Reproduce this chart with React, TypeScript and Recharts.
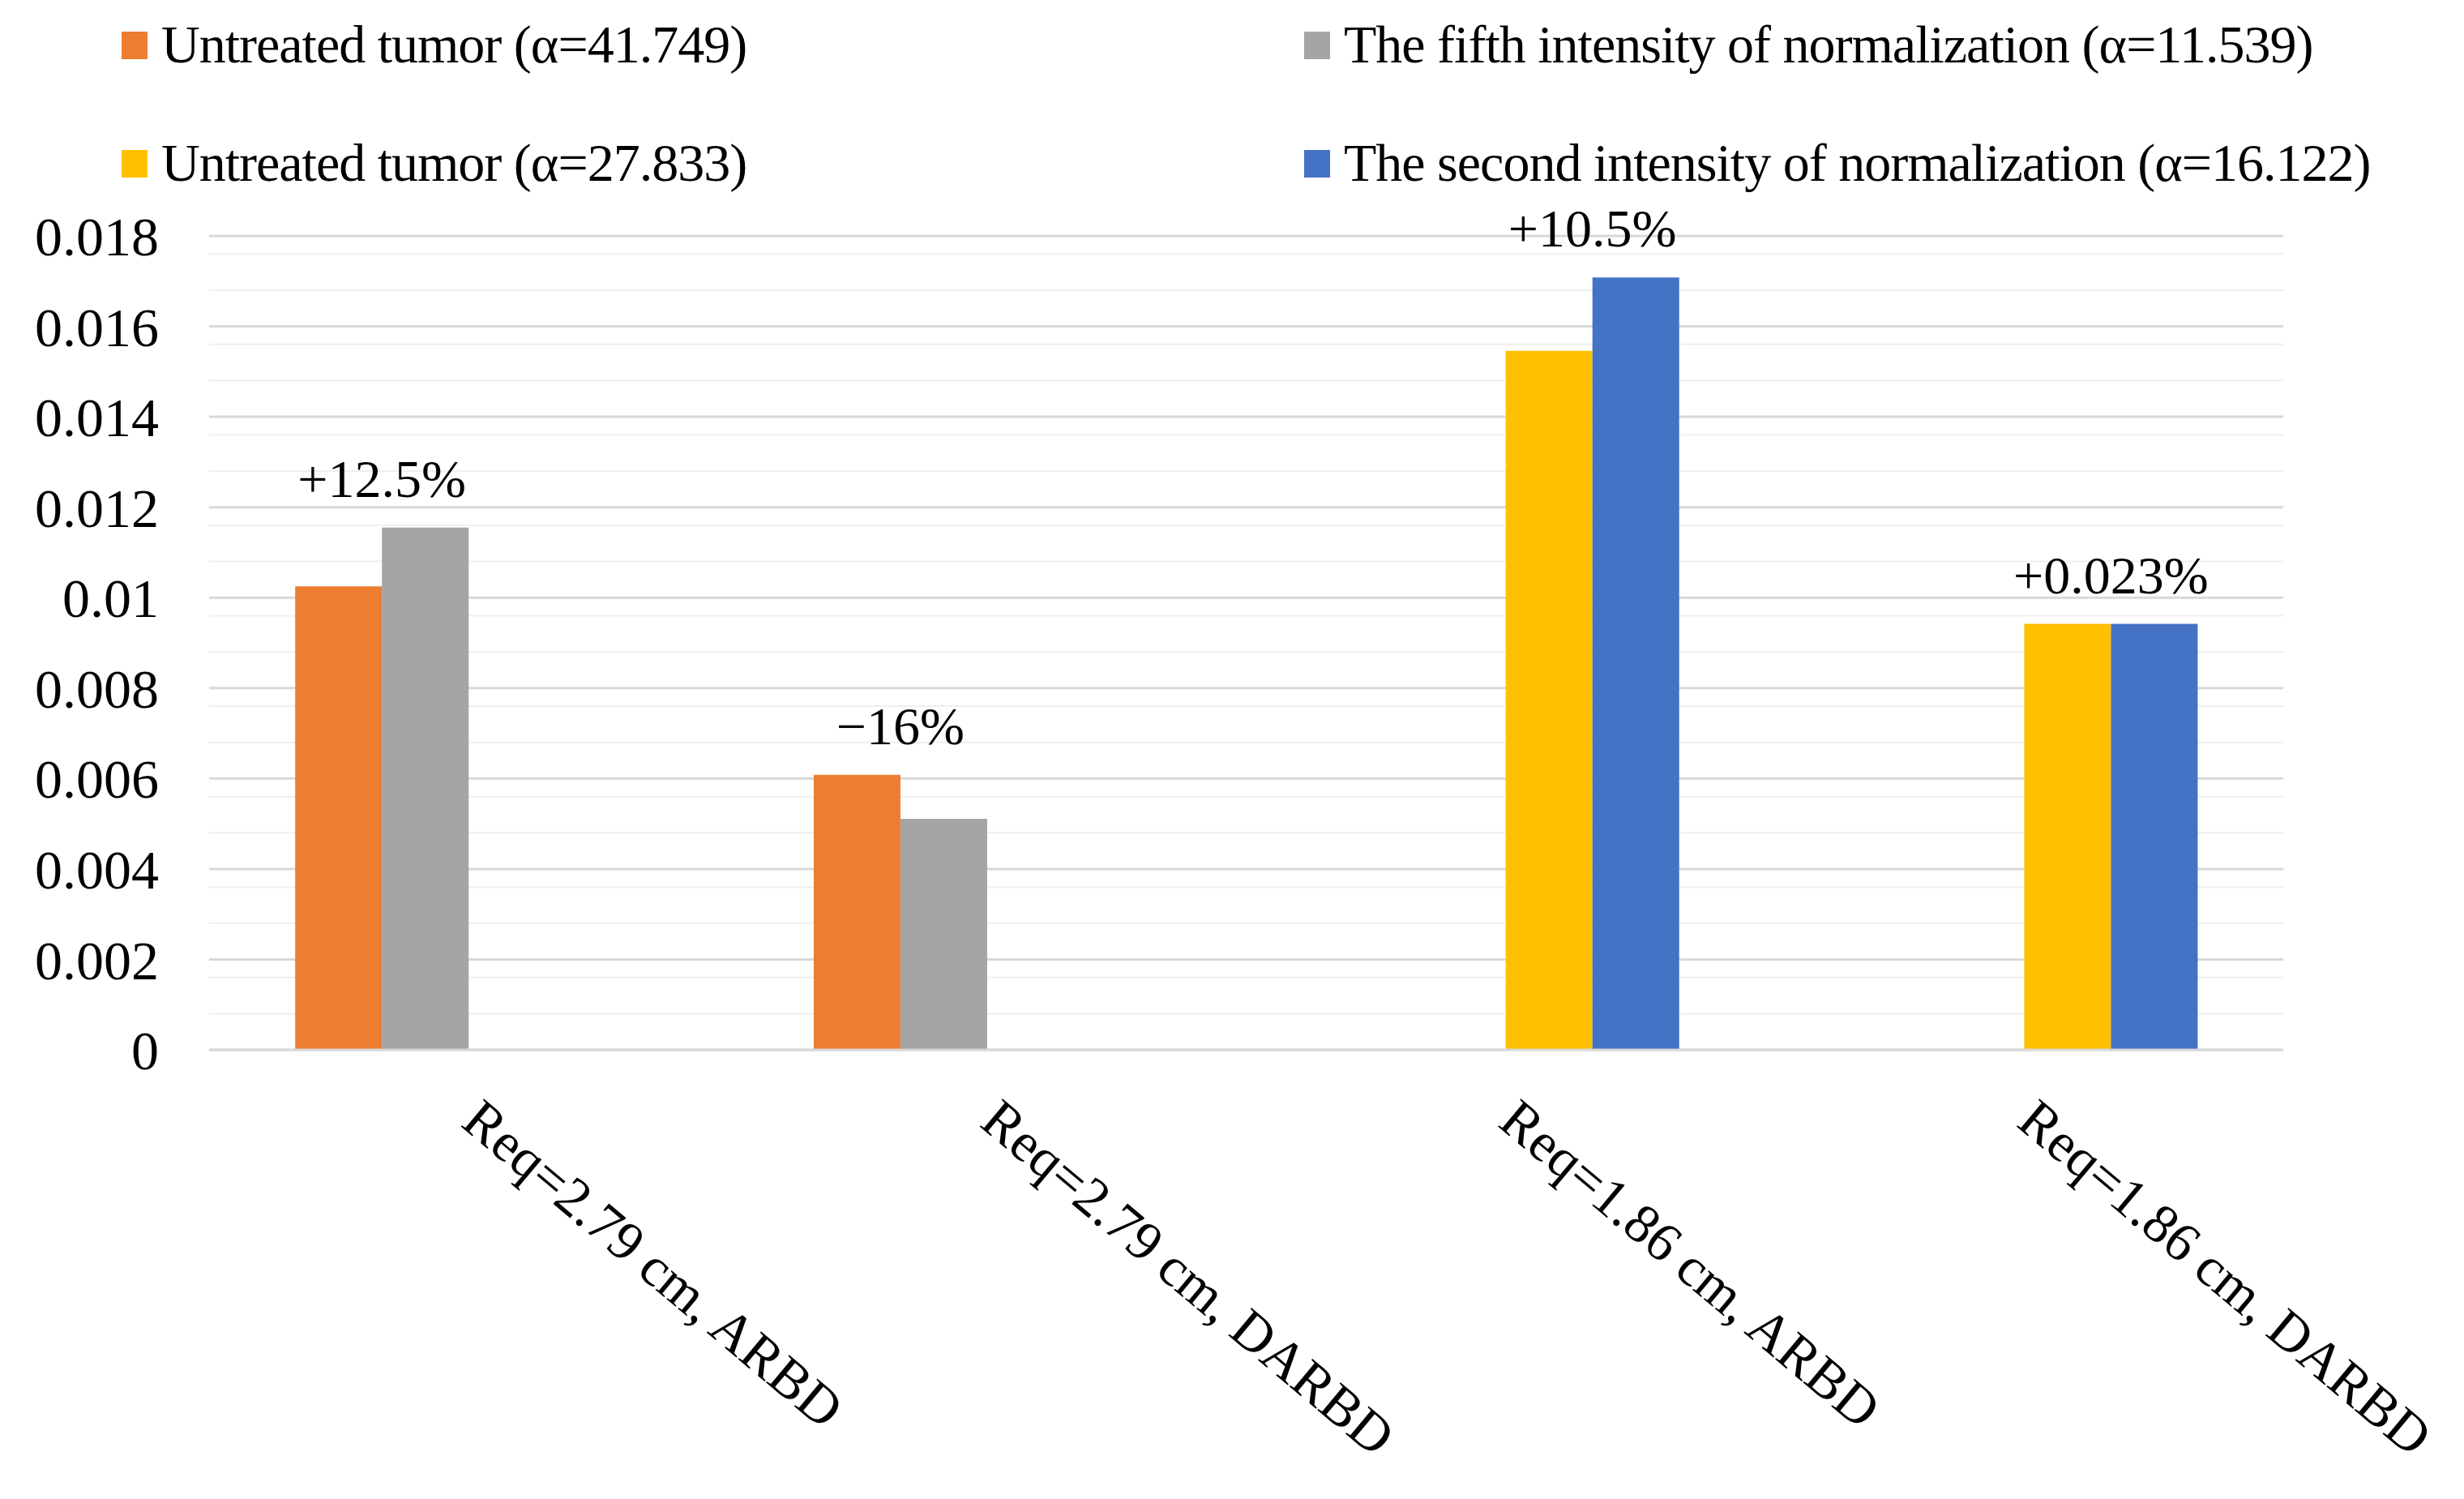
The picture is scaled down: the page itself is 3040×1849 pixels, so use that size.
import { BarChart, Bar, XAxis, YAxis, CartesianGrid, Legend, LabelList } from "recharts";

const CATEGORIES = ["Req=2.79 cm, ARBD", "Req=2.79 cm, DARBD", "Req=1.86 cm, ARBD", "Req=1.86 cm, DARBD"];
const UNTREATED_41 = [0.01025, 0.00608, null, null];
const FIFTH_NORM = [0.01155, 0.00511, null, null];
const UNTREATED_27 = [null, null, 0.01546, 0.00942];
const SECOND_NORM = [null, null, 0.01708, 0.00942];
const CHANGES = ["+12.5%", "\u221216%", "+10.5%", "+0.023%"];
const Y_TICKS = [0, 0.002, 0.004, 0.006, 0.008, 0.01, 0.012, 0.014, 0.016, 0.018];

const SERIES = [
  { key: "u41", name: "Untreated tumor (\u03b1=41.749)", color: "#ED7D31", values: UNTREATED_41 },
  { key: "fifth", name: "The fifth intensity of normalization (\u03b1=11.539)", color: "#A5A5A5", values: FIFTH_NORM },
  { key: "u27", name: "Untreated tumor (\u03b1=27.833)", color: "#FFC000", values: UNTREATED_27 },
  { key: "second", name: "The second intensity of normalization (\u03b1=16.122)", color: "#4472C4", values: SECOND_NORM },
];

const data = CATEGORIES.map((name, i) => {
  const row: Record<string, any> = { name };
  SERIES.forEach((s) => (row[s.key] = s.values[i]));
  return row;
});

// minor grid lines: five steps between the major ticks
const MINOR = Y_TICKS.slice(0, -1).flatMap((t, i) => [1, 2, 3, 4].map((k) => t + ((Y_TICKS[i + 1] - t) * k) / 5));

const FONT = "'Liberation Serif', 'Times New Roman', serif";
const W = 3020;
const H = 1830;

const XTick = ({ x, y, payload }: any) => (
  <text
    x={x - 11}
    y={y + 93}
    transform={`rotate(40 ${x - 11} ${y + 93})`}
    textAnchor="start"
    fontFamily={FONT}
    fontSize={68}
    fill="#000"
  >
    {payload.value}
  </text>
);

// change label sits over the taller bar of each pair, centred on the pair
const pairLabel = (a: (number | null)[], b: (number | null)[]) => (props: any) => {
  const { x, y, height, value } = props;
  const i = CATEGORIES.indexOf(value);
  if (i < 0 || b[i] == null) return null;
  const peak = Math.max(a[i] ?? 0, b[i] ?? 0);
  const base = Number(y) + Number(height);
  const top = base - (Number(height) * peak) / (b[i] as number);
  return (
    <text x={Number(x)} y={top - 38} textAnchor="middle" fontFamily={FONT} fontSize={66} fill="#000">
      {CHANGES[i]}
    </text>
  );
};

const LegendGrid = () => (
  <div style={{ position: "relative", width: W, height: 0 }}>
    {SERIES.map((s, i) => (
      <div
        key={s.key}
        style={{
          position: "absolute",
          left: i % 2 === 0 ? 142 : 1601,
          top: i < 2 ? 14 : 160,
          display: "flex",
          alignItems: "flex-start",
          whiteSpace: "nowrap",
          fontFamily: FONT,
          fontSize: 66,
          lineHeight: "66px",
          letterSpacing: -1,
          color: "#000",
        }}
      >
        <span style={{ width: 32, height: 34, background: s.color, marginTop: 17, marginRight: 17 }} />
        <span>{s.name}</span>
      </div>
    ))}
  </div>
);

export default function App() {
  return (
    <BarChart
      width={W}
      height={H}
      data={data}
      margin={{ top: 283, right: 211, left: 0, bottom: 0 }}
      barCategoryGap="16.6%"
      barGap={0}
    >
      <CartesianGrid vertical={false} horizontalValues={MINOR} stroke="#efefef" strokeWidth={2} />
      <CartesianGrid vertical={false} horizontalValues={Y_TICKS} stroke="#d9d9d9" strokeWidth={3} />
      <XAxis
        dataKey="name"
        height={543}
        tick={<XTick />}
        tickLine={false}
        tickSize={0}
        tickMargin={0}
        axisLine={{ stroke: "#d9d9d9", strokeWidth: 3 }}
        interval={0}
      />
      <YAxis
        width={250}
        domain={[0, 0.018]}
        ticks={Y_TICKS}
        axisLine={false}
        tickLine={false}
        tickSize={0}
        tickMargin={62}
        tick={{ fontFamily: FONT, fontSize: 68, fill: "#000" }}
      />
      <Legend content={<LegendGrid />} wrapperStyle={{ top: 0, left: 0, width: W, height: 0 }} />
      {SERIES.map((s) => (
        <Bar key={s.key} dataKey={s.key} name={s.name} fill={s.color} isAnimationActive={false}>
          {s.key === "fifth" && <LabelList dataKey="name" content={pairLabel(UNTREATED_41, FIFTH_NORM)} />}
          {s.key === "second" && <LabelList dataKey="name" content={pairLabel(UNTREATED_27, SECOND_NORM)} />}
        </Bar>
      ))}
    </BarChart>
  );
}
